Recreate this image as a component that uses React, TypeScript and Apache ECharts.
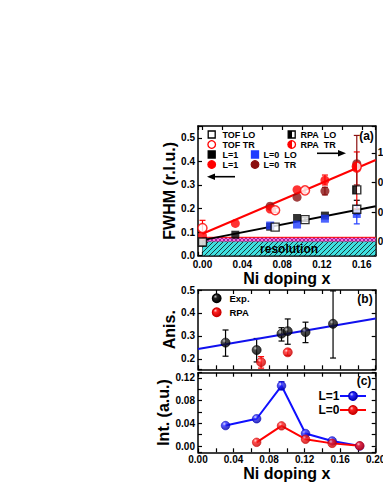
import React, { useEffect, useRef } from 'react';
import * as echarts from 'echarts';

const FONT = '"Liberation Sans", Arial, Helvetica, sans-serif';

// ---------- Panel (a): FWHM vs Ni doping ----------
const tofLoX = [0.0, 0.073, 0.103, 0.155];
const tofLoY = [0.058, 0.121, 0.153, 0.197];
const tofTrX = [0.0, 0.073, 0.103];
const tofTrY = [0.117, 0.193, 0.277];
const rpaLoX = [0.155];
const rpaLoY = [0.279];
const rpaTrX = [0.155];
const rpaTrY = [0.378];
const l1LoX = [0.0, 0.033, 0.068, 0.095, 0.123];
const l1LoY = [0.055, 0.089, 0.123, 0.16, 0.17];
const l1TrX = [0.0, 0.033, 0.068, 0.095, 0.123, 0.155];
const l1TrY = [0.085, 0.137, 0.198, 0.28, 0.32, 0.37];
const l0LoX = [0.068, 0.095, 0.123, 0.155];
const l0LoY = [0.128, 0.132, 0.157, 0.177];
const l0TrX = [0.068, 0.095, 0.123, 0.155];
const l0TrY = [0.21, 0.248, 0.274, 0.39];
// error bars
const tofTrErrX = [0.0, 0.073, 0.103];
const tofTrErrLo = [0.1, 0.184, 0.266];
const tofTrErrHi = [0.15, 0.202, 0.288];
const tofLoErrX = [0.103, 0.155];
const tofLoErrLo = [0.145, 0.175];
const tofLoErrHi = [0.161, 0.235];
const l1TrErrX = [0.123, 0.155];
const l1TrErrLo = [0.3, 0.2];
const l1TrErrHi = [0.342, 0.44];
const l0TrErrX = [0.123, 0.155];
const l0TrErrLo = [0.258, 0.3];
const l0TrErrHi = [0.29, 0.51];
const l0LoErrX = [0.155];
const l0LoErrLo = [0.135];
const l0LoErrHi = [0.212];
// linear fits
const fitX = [0.0, 0.174];
const fitLoY = [0.066, 0.21];
const fitTrY = [0.093, 0.406];
// resolution bands
const resLO = 0.06;
const resTR = 0.078;

// ---------- Panel (b): anisotropy ----------
const expX = [0.031, 0.066, 0.094, 0.101, 0.121, 0.152];
const expY = [0.271, 0.239, 0.31, 0.321, 0.317, 0.353];
const expLo = [0.212, 0.187, 0.278, 0.264, 0.271, 0.204];
const expHi = [0.326, 0.289, 0.336, 0.374, 0.36, 0.496];
const rpaX = [0.071, 0.101];
const rpaY = [0.186, 0.229];
const rpaLo = [0.16, 0.216];
const rpaHi = [0.21, 0.242];
const anisFitX = [0.0, 0.2];
const anisFitY = [0.243, 0.376];

// ---------- Panel (c): intensity ----------
const intL1X = [0.031, 0.066, 0.094, 0.121, 0.151, 0.182];
const intL1Y = [0.036, 0.048, 0.106, 0.022, 0.009, 0.0];
const intL0X = [0.066, 0.094, 0.121, 0.151, 0.182];
const intL0Y = [0.0065, 0.0355, 0.012, 0.0047, 0.0005];
const intL1ErrX = [0.094];
const intL1ErrLo = [0.099];
const intL1ErrHi = [0.113];

// ---------- layout ----------
const GL = 198;
const GW = 177.7;
const A_TOP = 126, A_H = 129.7;
const B_TOP = 290, B_H = 79.3;
const C_TOP = 372.7, C_H = 79.6;
const A_XMIN = -0.0045, A_XMAX = 0.174;

const pts = (xs: number[], ys: number[]) => xs.map((x, i) => [x, ys[i]]);
const bars = (xs: number[], lo: number[], hi: number[]) => xs.map((x, i) => [x, lo[i], hi[i]]);
const isMult = (v: number, s: number) => Math.abs(v / s - Math.round(v / s)) < 1e-6;
const fmt = (s: number, d: number) => (v: number) => (isMult(v, s) ? (Math.abs(v) < 1e-9 ? 0 : v).toFixed(d) : '');

const lbl = (formatter: any, margin = 3) => ({
  show: true, color: '#000', fontFamily: FONT, fontWeight: 'bold', fontSize: 10, margin, formatter,
});
const titleStyle = { color: '#000', fontFamily: FONT, fontWeight: 'bold', fontSize: 16 };

function ax(extra: any) {
  return {
    type: 'value',
    axisLine: { show: true, onZero: false, lineStyle: { color: '#000', width: 1.5 } },
    axisTick: { show: true, inside: true, length: 4, lineStyle: { color: '#000', width: 1.2 } },
    axisLabel: { show: false },
    splitLine: { show: false },
    ...extra,
  };
}

const halfFill = (c: string) =>
  new echarts.graphic.LinearGradient(0, 0, 1, 0, [
    { offset: 0, color: c }, { offset: 0.5, color: c }, { offset: 0.5, color: '#fff' }, { offset: 1, color: '#fff' },
  ]);
const ball = (hl: string, base: string, dark: string) =>
  new echarts.graphic.RadialGradient(0.35, 0.3, 0.75, [
    { offset: 0, color: hl }, { offset: 0.3, color: base }, { offset: 1, color: dark },
  ]);

function errSeries(data: number[][], color: string, gi: number) {
  return {
    type: 'custom', xAxisIndex: gi * 2, yAxisIndex: gi * 2, data, z: 2, silent: true, clip: false,
    encode: { x: 0, y: [1, 2] },
    renderItem: (_p: any, api: any) => {
      const x = api.value(0), lo = api.value(1), hi = api.value(2);
      const a = api.coord([x, lo]), b = api.coord([x, hi]);
      const w = 3;
      const st = { stroke: color, lineWidth: 1.2 };
      return {
        type: 'group', children: [
          { type: 'line', shape: { x1: a[0], y1: a[1], x2: b[0], y2: b[1] }, style: st },
          { type: 'line', shape: { x1: a[0] - w, y1: a[1], x2: a[0] + w, y2: a[1] }, style: st },
          { type: 'line', shape: { x1: b[0] - w, y1: b[1], x2: b[0] + w, y2: b[1] }, style: st },
        ],
      };
    },
  };
}

function scat(name: string, gi: number, data: number[][], symbol: string, size: number, itemStyle: any, z = 5) {
  return { type: 'scatter', name, xAxisIndex: gi * 2, yAxisIndex: gi * 2, data, symbol, symbolSize: size, itemStyle, z, silent: true };
}
function line(name: string, gi: number, data: number[][], color: string, width: number, z = 3, extra: any = {}) {
  return {
    type: 'line', name, xAxisIndex: gi * 2, yAxisIndex: gi * 2, data, showSymbol: false, symbol: 'none',
    lineStyle: { color, width }, z, silent: true, ...extra,
  };
}

function hatch(bg: string, stroke: string, size: number, cross: boolean) {
  const c = document.createElement('canvas');
  c.width = size; c.height = size;
  const ctx = c.getContext('2d')!;
  ctx.fillStyle = bg; ctx.fillRect(0, 0, size, size);
  ctx.strokeStyle = stroke; ctx.lineWidth = 1;
  ctx.beginPath();
  ctx.moveTo(0, size); ctx.lineTo(size, 0);
  ctx.moveTo(-1, 1); ctx.lineTo(1, -1);
  ctx.moveTo(size - 1, size + 1); ctx.lineTo(size + 1, size - 1);
  if (cross) { ctx.moveTo(0, 0); ctx.lineTo(size, size); }
  ctx.stroke();
  return { image: c.toDataURL(), repeat: 'repeat', imageWidth: size, imageHeight: size };
}

function buildOption() {
  const RED = '#ff0000', DRED = '#8b1010', BLUE = '#1f3cff';
  const sqS = 8, ciS = 9;

  const txt = (x: number, y: number, text: string, size = 9, align = 'left') => ({
    type: 'text', x, y, z: 100, silent: true,
    style: { text, fill: '#000', fontFamily: FONT, fontWeight: 'bold', fontSize: size, align, verticalAlign: 'middle' },
  });
  const gsq = (cx: number, cy: number, fill: any, stroke: string) => ({
    type: 'rect', z: 100, silent: true, shape: { x: cx - 3.5, y: cy - 3.5, width: 7, height: 7 }, style: { fill, stroke, lineWidth: 1.3 },
  });
  const gci = (cx: number, cy: number, fill: any, stroke: string, r = 3.8) => ({
    type: 'circle', z: 100, silent: true, shape: { cx, cy, r }, style: { fill, stroke, lineWidth: 1.3 },
  });
  const NB = '\u00a0\u00a0';

  const graphic = [
    // panel (a) legend
    gsq(211.7, 134.5, '#fff', '#000'), txt(222.5, 134.5, 'TOF LO'),
    gci(211.7, 144.5, '#fff', RED), txt(222.5, 144.5, 'TOF TR'),
    gsq(291.7, 134.5, halfFill('#000'), '#000'), txt(300.5, 134.5, 'RPA' + NB + 'LO'),
    gci(291.7, 144.5, halfFill(RED), RED), txt(300.5, 144.5, 'RPA' + NB + 'TR'),
    gsq(211.7, 154.5, '#000', '#000'), txt(222.5, 154.5, 'L=1'),
    gci(211.7, 164.5, RED, RED), txt(222.5, 164.5, 'L=1'),
    gsq(255, 154.5, BLUE, BLUE), txt(263.5, 154.5, 'L=0' + NB + 'LO'),
    gci(255, 164.5, DRED, DRED), txt(263.5, 164.5, 'L=0' + NB + 'TR'),
    // arrows
    { type: 'line', z: 100, silent: true, shape: { x1: 213, y1: 176.7, x2: 235, y2: 176.7 }, style: { stroke: '#000', lineWidth: 1.6 } },
    { type: 'polygon', z: 100, silent: true, shape: { points: [[207, 176.7], [215, 173.5], [215, 179.9]] }, style: { fill: '#000' } },
    { type: 'line', z: 100, silent: true, shape: { x1: 317, y1: 153.3, x2: 340, y2: 153.3 }, style: { stroke: '#000', lineWidth: 1.6 } },
    { type: 'polygon', z: 100, silent: true, shape: { points: [[346, 153.3], [338, 150.1], [338, 156.5]] }, style: { fill: '#000' } },
    // panel tags
    txt(366.5, 135.5, '(a)', 12, 'center'),
    txt(365, 298.5, '(b)', 12, 'center'),
    txt(364, 380.5, '(c)', 12, 'center'),
    // panel (b) legend
    gci(216.7, 298.3, ball('#bbbbbb', '#222', '#000'), '#000', 4.3), txt(229.5, 298.3, 'Exp.', 9.5),
    gci(216.7, 312.3, ball('#ffc8c8', '#ff2020', '#c00000'), '#d00000', 4.3), txt(229.5, 312.3, 'RPA', 9.5),
    // panel (c) legend
    txt(339.5, 396, 'L=1', 12, 'right'),
    { type: 'line', z: 100, silent: true, shape: { x1: 340, y1: 396, x2: 366, y2: 396 }, style: { stroke: '#1010ff', lineWidth: 2 } },
    gci(353, 396, ball('#d0d0ff', '#2a2aff', '#0000a0'), '#0000c0', 4.3),
    txt(339.5, 410, 'L=0', 12, 'right'),
    { type: 'line', z: 100, silent: true, shape: { x1: 340, y1: 410, x2: 366, y2: 410 }, style: { stroke: RED, lineWidth: 2 } },
    gci(353, 410, ball('#ffc8c8', '#ff2020', '#c00000'), '#d00000', 4.3),
  ];

  const xAxis = [
    ax({ gridIndex: 0, position: 'bottom', min: A_XMIN, max: A_XMAX, splitNumber: 9, axisLabel: lbl(fmt(0.04, 2), 4),
      name: 'Ni doping x', nameLocation: 'middle', nameGap: 10, nameTextStyle: titleStyle }),
    ax({ gridIndex: 0, position: 'top', min: A_XMIN, max: A_XMAX, splitNumber: 9 }),
    ax({ gridIndex: 1, position: 'bottom', min: 0, max: 0.2, interval: 0.02 }),
    ax({ gridIndex: 1, position: 'top', min: 0, max: 0.2, interval: 0.02 }),
    ax({ gridIndex: 2, position: 'bottom', min: 0, max: 0.2, interval: 0.02, axisLabel: lbl(fmt(0.04, 2), 2),
      name: 'Ni doping x', nameLocation: 'middle', nameGap: 10, nameTextStyle: titleStyle }),
    ax({ gridIndex: 2, position: 'top', min: 0, max: 0.2, interval: 0.02 }),
  ];
  const yAxis = [
    ax({ gridIndex: 0, position: 'left', min: 0, max: 0.55, interval: 0.1, axisLabel: lbl(fmt(0.1, 1)),
      name: 'FWHM (r.l.u.)', nameLocation: 'middle', nameGap: 12, nameTextStyle: titleStyle }),
    ax({ gridIndex: 0, position: 'right', min: 0.3076, max: 1.182, splitNumber: 4, axisLabel: lbl(fmt(0.2, 1), 2) }),
    ax({ gridIndex: 1, position: 'left', min: 0.155, max: 0.5, splitNumber: 4, axisLabel: lbl(fmt(0.1, 1)),
      name: 'Anis.', nameLocation: 'middle', nameGap: 13, nameTextStyle: titleStyle }),
    ax({ gridIndex: 1, position: 'right', min: 0.155, max: 0.5, splitNumber: 4 }),
    ax({ gridIndex: 2, position: 'left', min: -0.011, max: 0.129, splitNumber: 7, axisLabel: lbl(fmt(0.04, 2)),
      name: 'Int. (a.u.)', nameLocation: 'middle', nameGap: 13, nameTextStyle: titleStyle }),
    ax({ gridIndex: 2, position: 'right', min: -0.011, max: 0.129, splitNumber: 7 }),
  ];

  const cyanHatch = hatch('#3fe0e0', '#1a3a3a', 5, false);
  const pinkHatch = hatch('#ff6fd8', '#9a2a9a', 4, true);

  const series: any[] = [
    // resolution bands
    line('resolution', 0, pts(fitX, [resLO, resLO]), 'rgba(0,0,0,0)', 0, 1, {
      markArea: {
        silent: true,
        data: [
          [
            { name: 'resolution', xAxis: 0, yAxis: 0, itemStyle: { color: cyanHatch, borderColor: '#000', borderWidth: 0.5 },
              label: { show: true, position: 'inside', color: '#000', fontFamily: FONT, fontWeight: 'bold', fontSize: 12 } },
            { xAxis: A_XMAX, yAxis: resLO },
          ],
          [
            { name: '', xAxis: 0, yAxis: resLO, itemStyle: { color: pinkHatch }, label: { show: false } },
            { xAxis: A_XMAX, yAxis: resTR },
          ],
        ],
      },
    }),
    line('resTop', 0, pts(fitX, [resTR, resTR]), RED, 1, 2),
    // fits
    line('fitLO', 0, pts(fitX, fitLoY), '#000', 2),
    line('fitTR', 0, pts(fitX, fitTrY), RED, 2),
    // error bars
    errSeries(bars(tofTrErrX, tofTrErrLo, tofTrErrHi), RED, 0),
    errSeries(bars(tofLoErrX, tofLoErrLo, tofLoErrHi), '#000', 0),
    errSeries(bars(l1TrErrX, l1TrErrLo, l1TrErrHi), RED, 0),
    errSeries(bars(l0TrErrX, l0TrErrLo, l0TrErrHi), DRED, 0),
    errSeries(bars(l0LoErrX, l0LoErrLo, l0LoErrHi), BLUE, 0),
    // points
    scat('L=1 LO', 0, pts(l1LoX, l1LoY), 'rect', sqS, { color: '#000' }),
    scat('L=0 LO', 0, pts(l0LoX, l0LoY), 'rect', sqS, { color: BLUE }),
    scat('L=0 TR', 0, pts(l0TrX, l0TrY), 'circle', ciS, { color: DRED }),
    scat('L=1 TR', 0, pts(l1TrX, l1TrY), 'circle', ciS, { color: RED }),
    scat('TOF LO', 0, pts(tofLoX, tofLoY), 'rect', sqS, { color: '#fff', borderColor: '#000', borderWidth: 1.4 }, 6),
    scat('TOF TR', 0, pts(tofTrX, tofTrY), 'circle', ciS, { color: '#fff', borderColor: RED, borderWidth: 1.5 }, 6),
    scat('RPA LO', 0, pts(rpaLoX, rpaLoY), 'rect', sqS, { color: halfFill('#000'), borderColor: '#000', borderWidth: 1.4 }, 6),
    scat('RPA TR', 0, pts(rpaTrX, rpaTrY), 'circle', ciS, { color: halfFill(RED), borderColor: RED, borderWidth: 1.5 }, 6),

    // panel (b)
    line('anisFit', 1, pts(anisFitX, anisFitY), '#1010ee', 2),
    errSeries(bars(expX, expLo, expHi), '#000', 1),
    errSeries(bars(rpaX, rpaLo, rpaHi), RED, 1),
    scat('Exp.', 1, pts(expX, expY), 'circle', 9, { color: ball('#bbbbbb', '#222', '#000'), borderColor: '#000', borderWidth: 0.8 }),
    scat('RPA', 1, pts(rpaX, rpaY), 'circle', 9, { color: ball('#ffc8c8', '#ff2020', '#c00000'), borderColor: '#d00000', borderWidth: 0.8 }),

    // panel (c)
    line('L=1', 2, pts(intL1X, intL1Y), '#1010ff', 2),
    line('L=0', 2, pts(intL0X, intL0Y), RED, 2),
    errSeries(bars(intL1ErrX, intL1ErrLo, intL1ErrHi), '#0000c0', 2),
    scat('L=1 pts', 2, pts(intL1X, intL1Y), 'circle', 8.5, { color: ball('#d0d0ff', '#2a2aff', '#0000a0'), borderColor: '#0000c0', borderWidth: 0.8 }),
    scat('L=0 pts', 2, pts(intL0X, intL0Y), 'circle', 8.5, { color: ball('#ffc8c8', '#ff2020', '#c00000'), borderColor: '#d00000', borderWidth: 0.8 }),
  ];

  const gridBase = { containLabel: false, outerBoundsMode: 'none' };
  return {
    animation: false,
    backgroundColor: '#fff',
    textStyle: { fontFamily: FONT },
    grid: [
      { ...gridBase, left: GL, top: A_TOP, width: GW, height: A_H },
      { ...gridBase, left: GL, top: B_TOP, width: GW, height: B_H },
      { ...gridBase, left: GL, top: C_TOP, width: GW, height: C_H },
    ],
    xAxis, yAxis, series, graphic,
  };
}

export default function App() {
  const ref = useRef<HTMLDivElement>(null);
  useEffect(() => {
    if (!ref.current) return;
    const chart = echarts.init(ref.current, null, { renderer: 'svg' });
    chart.setOption(buildOption() as any);
    return () => chart.dispose();
  }, []);
  return <div ref={ref} style={{ position: 'absolute', left: 0, top: 0, width: 383, height: 495 }} />;
}
